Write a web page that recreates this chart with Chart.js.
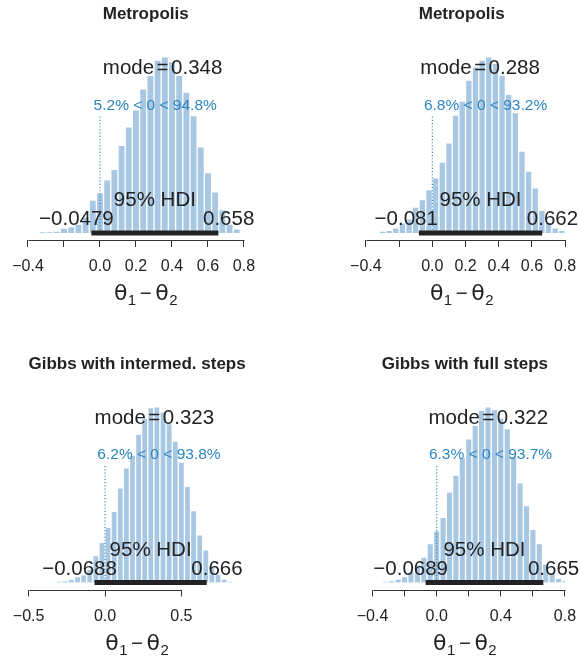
<!DOCTYPE html>
<html>
<head>
<meta charset="utf-8">
<script src="https://cdn.jsdelivr.net/npm/chart.js@4/dist/chart.umd.min.js"></script>
<style>
  html, body { margin: 0; padding: 0; background: #fff; }
  #wrap { position: relative; width: 580px; height: 657px; }
  #wrap canvas { position: absolute; left: 0; top: 0; }
</style>
</head>
<body>
<div id="wrap">
  <canvas id="c0" width="580" height="657"></canvas>
  <canvas id="c1" width="580" height="657"></canvas>
  <canvas id="c2" width="580" height="657"></canvas>
  <canvas id="c3" width="580" height="657"></canvas>
</div>
<script>
// Posterior of theta1 - theta2 from four samplers: histogram (density),
// 95% HDI bar, mode and the share of the posterior on each side of 0.

const panelTitles = ['Metropolis', 'Metropolis', 'Gibbs with intermed. steps', 'Gibbs with full steps'];

// bin midpoints and densities per sampler
const binMids1 = [-0.32, -0.28, -0.24, -0.20, -0.16, -0.12, -0.08, -0.04, 0.00, 0.04, 0.08, 0.12, 0.16, 0.20,
                  0.24, 0.28, 0.32, 0.36, 0.40, 0.44, 0.48, 0.52, 0.56, 0.60, 0.64, 0.68, 0.72, 0.76];
const density1 = [0.01, 0.01, 0.02, 0.06, 0.08, 0.11, 0.20, 0.41, 0.50, 0.66, 0.79, 1.09, 1.32, 1.53,
                  1.79, 1.96, 2.15, 2.19, 2.13, 1.96, 1.75, 1.46, 1.07, 0.75, 0.51, 0.29, 0.11, 0.05];

const binMids2 = [-0.30, -0.26, -0.22, -0.18, -0.14, -0.10, -0.06, -0.02, 0.02, 0.06, 0.10, 0.14, 0.18, 0.22,
                  0.26, 0.30, 0.34, 0.38, 0.42, 0.46, 0.50, 0.54, 0.58, 0.62, 0.66, 0.70, 0.74, 0.78, 0.82];
const density2 = [0.02, 0.03, 0.06, 0.12, 0.17, 0.31, 0.40, 0.52, 0.66, 0.85, 1.08, 1.41, 1.58, 1.83,
                  1.99, 2.07, 2.11, 2.03, 1.89, 1.66, 1.44, 0.98, 0.74, 0.54, 0.27, 0.13, 0.06, 0.03, 0.01];

const binMids3 = [-0.30, -0.26, -0.22, -0.18, -0.14, -0.10, -0.06, -0.02, 0.02, 0.06, 0.10, 0.14, 0.18, 0.22,
                  0.26, 0.30, 0.34, 0.38, 0.42, 0.46, 0.50, 0.54, 0.58, 0.62, 0.66, 0.70, 0.74, 0.78, 0.82];
const density3 = [0.01, 0.02, 0.04, 0.07, 0.09, 0.16, 0.32, 0.48, 0.66, 0.85, 1.13, 1.37, 1.52, 1.77,
                  1.96, 2.09, 2.10, 2.04, 1.90, 1.69, 1.44, 1.15, 0.86, 0.57, 0.39, 0.20, 0.10, 0.04, 0.01];

const binMids4 = [-0.32, -0.28, -0.24, -0.20, -0.16, -0.12, -0.08, -0.04, 0.00, 0.04, 0.08, 0.12, 0.16, 0.20,
                  0.24, 0.28, 0.32, 0.36, 0.40, 0.44, 0.48, 0.52, 0.56, 0.60, 0.64, 0.68, 0.72, 0.76, 0.80];
const density4 = [0.01, 0.02, 0.04, 0.07, 0.13, 0.21, 0.30, 0.46, 0.61, 0.77, 1.07, 1.27, 1.48, 1.70,
                  1.86, 2.04, 2.08, 2.05, 1.95, 1.82, 1.49, 1.18, 0.91, 0.63, 0.46, 0.22, 0.12, 0.05, 0.02];

// summary statistics
const modes = [0.348, 0.288, 0.323, 0.322];
const hdiLow = [-0.0479, -0.081, -0.0688, -0.0689];
const hdiHigh = [0.658, 0.662, 0.666, 0.665];
const compVal = 0;
const pctBelow = [5.2, 6.8, 6.2, 6.3];
const pctAbove = [94.8, 93.2, 93.8, 93.7];

// x axis ticks
const tickValues1 = [-0.4, -0.2, 0.0, 0.2, 0.4, 0.6, 0.8];
const tickLabels1 = ['\u22120.4', '', '0.0', '0.2', '0.4', '0.6', '0.8'];
const tickValues2 = [-0.4, -0.2, 0.0, 0.2, 0.4, 0.6, 0.8];
const tickLabels2 = ['\u22120.4', '', '0.0', '0.2', '0.4', '0.6', '0.8'];
const tickValues3 = [-0.5, 0.0, 0.5];
const tickLabels3 = ['\u22120.5', '0.0', '0.5'];
const tickValues4 = [-0.4, -0.2, 0.0, 0.2, 0.4, 0.6, 0.8];
const tickLabels4 = ['\u22120.4', '', '0.0', '', '0.4', '', '0.8'];

// ---- appearance ----
const FONT = '"Liberation Sans", Arial, Helvetica, sans-serif';
const BAR_COLOR = '#a8c7e2';
const BLUE = '#2a86bf';
const INK = '#222222';
const AXIS_COLOR = '#333333';
const AXIS_BOX_H = 40;

// plot box of each panel (page pixels) and the x range it spans
const layouts = [
  { box: { left: 24.4,  right: 267.0, top: 49.7,  bottom: 240.0 }, xMin: -0.42, xMax: 0.928 },
  { box: { left: 357.6, right: 565.8, top: 49.7,  bottom: 240.0 }, xMin: -0.45, xMax: 0.804 },
  { box: { left: 28.65, right: 245.5, top: 399.7, bottom: 589.5 }, xMin: -0.50, xMax: 0.920 },
  { box: { left: 364.5, right: 565.3, top: 399.7, bottom: 589.5 }, xMin: -0.45, xMax: 0.802 }
];

const panels = [
  { mids: binMids1, dens: density1, ticks: tickValues1, labels: tickLabels1 },
  { mids: binMids2, dens: density2, ticks: tickValues2, labels: tickLabels2 },
  { mids: binMids3, dens: density3, ticks: tickValues3, labels: tickLabels3 },
  { mids: binMids4, dens: density4, ticks: tickValues4, labels: tickLabels4 }
];

const fmt = v => String(v).replace('-', '\u2212');

function drawPieces(ctx, pieces, cx, baseline) {
  // pieces: [text, font, dy, gapAfter]
  let total = 0;
  pieces.forEach(p => { ctx.font = p[1]; p.w = ctx.measureText(p[0]).width; total += p.w + (p[3] || 0); });
  let x = cx - total / 2;
  ctx.textAlign = 'left';
  ctx.textBaseline = 'alphabetic';
  pieces.forEach(p => {
    ctx.font = p[1];
    ctx.fillText(p[0], x, baseline + (p[2] || 0));
    x += p.w + (p[3] || 0);
  });
}

function annotations(i) {
  return {
    id: 'annot' + i,
    afterDraw(chart) {
      const { ctx, chartArea } = chart;
      const xs = chart.scales.x, ys = chart.scales.y;
      const p = panels[i];
      const M = Math.max(...p.dens);
      const y0 = ys.getPixelForValue(0);
      const cx = (chartArea.left + chartArea.right) / 2;
      ctx.save();

      // axis line between first and last tick
      const ya = Math.round(chartArea.bottom) + 0.5;
      ctx.strokeStyle = AXIS_COLOR;
      ctx.lineWidth = 1;
      ctx.beginPath();
      ctx.moveTo(Math.round(xs.getPixelForValue(p.ticks[0])) + 0.5, ya);
      ctx.lineTo(Math.round(xs.getPixelForValue(p.ticks[p.ticks.length - 1])) + 0.5, ya);
      ctx.stroke();

      // panel title
      ctx.fillStyle = INK;
      ctx.font = 'bold 17px ' + FONT;
      ctx.textAlign = 'center';
      ctx.textBaseline = 'middle';
      ctx.fillText(panelTitles[i], cx, chartArea.top - 35);

      // mode
      const big = '20.5px ' + FONT;
      drawPieces(ctx, [['mode', big, 0, 2.5], ['=', big, 0, 2.5], [String(modes[i]), big, 0, 0]],
                 xs.getPixelForValue(modes[i]), ys.getPixelForValue(0.9 * M));

      // percentage on each side of the comparison value
      ctx.fillStyle = BLUE;
      ctx.font = '15.5px ' + FONT;
      const cmpText = pctBelow[i] + '% < ' + compVal + ' < ' + pctAbove[i] + '%';
      const cw = ctx.measureText(cmpText).width;
      ctx.textAlign = 'left';
      ctx.textBaseline = 'alphabetic';
      ctx.fillText(cmpText, xs.getPixelForValue(compVal) - (pctBelow[i] / 100) * cw, ys.getPixelForValue(0.7 * M));

      // HDI labels
      ctx.fillStyle = INK;
      ctx.font = big;
      ctx.textAlign = 'center';
      ctx.fillText('95% HDI', xs.getPixelForValue((hdiLow[i] + hdiHigh[i]) / 2), y0 - 26.5);
      const lo = fmt(hdiLow[i]), hi = fmt(hdiHigh[i]);
      const lw = ctx.measureText(lo).width, hw = ctx.measureText(hi).width;
      ctx.textAlign = 'left';
      ctx.fillText(lo, xs.getPixelForValue(hdiLow[i]) - 0.7 * lw, y0 - 7.5);
      ctx.fillText(hi, xs.getPixelForValue(hdiHigh[i]) - 0.3 * hw, y0 - 7.5);

      // axis title: theta_1 - theta_2
      const th = '22px "DejaVu Sans", ' + FONT;
      const sub = '15px ' + FONT;
      drawPieces(ctx, [['\u03B8', th, 0, 0.5], ['1', sub, 5, 3.5], ['\u2212', big, 0, 3.5],
                       ['\u03B8', th, 0, 0.5], ['2', sub, 5, 0]],
                 cx, chartArea.bottom + 60);
      ctx.restore();
    }
  };
}

function build(i) {
  const p = panels[i], L = layouts[i];
  const M = Math.max(...p.dens);
  new Chart(document.getElementById('c' + i), {
    type: 'bar',
    data: {
      datasets: [
        { // 95% HDI
          type: 'line', order: 0,
          data: [{ x: hdiLow[i], y: 0 }, { x: hdiHigh[i], y: 0 }],
          borderColor: INK, borderWidth: 5, borderCapStyle: 'butt', pointRadius: 0
        },
        { // comparison value marker
          type: 'line', order: 1,
          data: [{ x: compVal, y: 0 }, { x: compVal, y: 0.96 * 0.7 * M }],
          borderColor: BLUE, borderWidth: 1.1, borderDash: [1.2, 2], pointRadius: 0
        },
        { // histogram
          type: 'bar', order: 2,
          data: p.mids.map((m, k) => ({ x: m, y: p.dens[k] })),
          backgroundColor: BAR_COLOR, borderColor: '#ffffff', borderWidth: 1,
          barPercentage: 1, categoryPercentage: 1
        }
      ]
    },
    options: {
      responsive: false, animation: false, devicePixelRatio: 1,
      layout: { padding: { left: L.box.left, right: 580 - L.box.right, top: L.box.top,
                           bottom: 657 - L.box.bottom - AXIS_BOX_H } },
      plugins: { legend: { display: false }, tooltip: { enabled: false }, title: { display: false } },
      scales: {
        x: {
          type: 'linear', min: L.xMin, max: L.xMax, offset: false,
          afterBuildTicks: s => { s.ticks = p.ticks.map(v => ({ value: v })); },
          afterFit: s => { s.height = AXIS_BOX_H; s.paddingLeft = 0; s.paddingRight = 0; },
          border: { display: false },
          grid: { offset: false, drawOnChartArea: false, drawTicks: true, tickLength: 7, color: AXIS_COLOR, lineWidth: 1 },
          ticks: { autoSkip: false, maxRotation: 0, padding: 10.4, color: INK,
                   font: { family: FONT, size: 16 },
                   callback: (v, k) => p.labels[k] }
        },
        y: { display: false, min: -0.04 * M, max: 1.04 * M }
      }
    },
    plugins: [annotations(i)]
  });
}

[0, 1, 2, 3].forEach(build);
</script>
</body>
</html>
